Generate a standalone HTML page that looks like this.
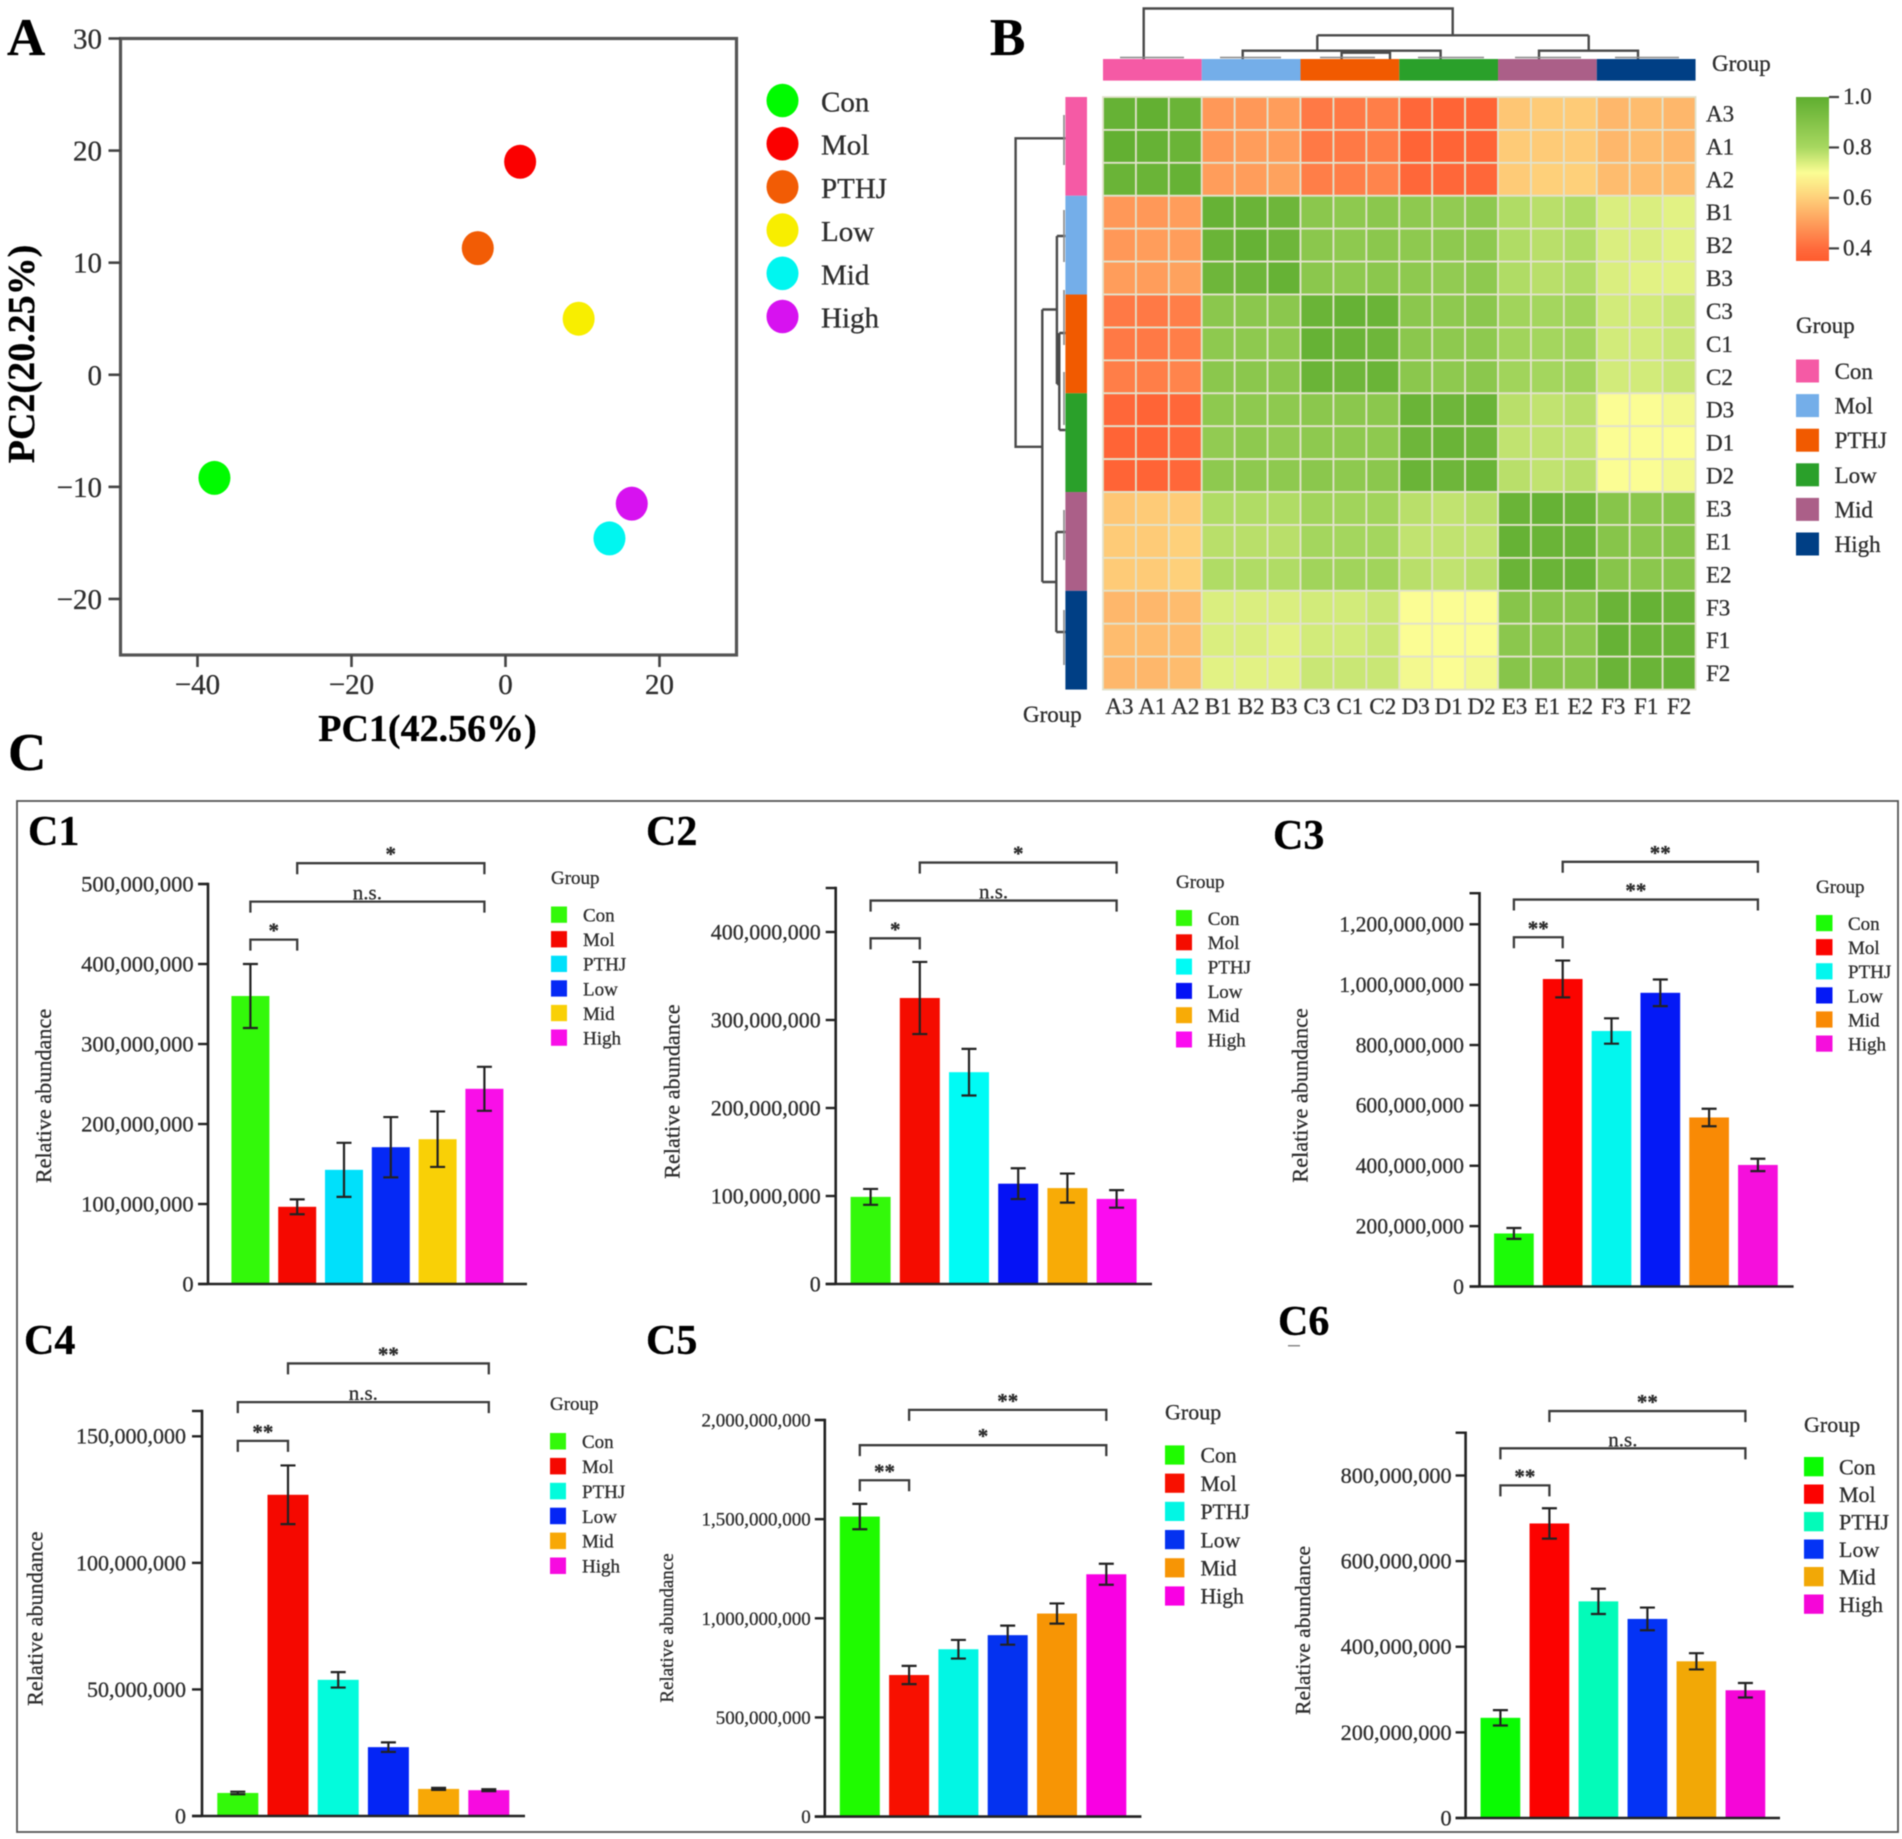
<!DOCTYPE html>
<html lang="en">
<head>
<meta charset="utf-8">
<title>PCA, correlation heatmap and relative abundance bar charts</title>
<style>
html,body{margin:0;padding:0;background:#fff;}
svg{display:block;filter:blur(0.55px);font-family:"Liberation Serif",serif;}
text{fill:#2e2e2e;stroke:#2e2e2e;stroke-width:.3px;}
.letter{font-weight:bold;font-size:53px;fill:#000;stroke:#000;}
.sub{font-weight:bold;font-size:42px;fill:#000;stroke:#000;}
.ttl{font-weight:bold;font-size:38px;fill:#000;stroke:#000;}
.den{fill:none;stroke:#4a4a4a;stroke-width:2.4;}
.den2{fill:none;stroke:#888;stroke-width:1.6;}
</style>
</head>
<body>
<svg id="fig" width="1902" height="1839" viewBox="0 0 1902 1839" xmlns="http://www.w3.org/2000/svg">
  <rect x="0" y="0" width="1902" height="1839" fill="#fff"/>

  <text class="letter" x="7" y="55">A</text>
  <text class="letter" x="990" y="55">B</text>
  <text class="letter" x="8" y="770">C</text>

  <!-- Panel A -->
  <g id="pca">
    <text class="ttl" x="427.5" y="741" text-anchor="middle">PC1(42.56%)</text>
    <text class="ttl" transform="translate(34,354) rotate(-90)" text-anchor="middle">PC2(20.25%)</text>
  </g>

  <!-- Panel B -->
  <g id="heat">
    <path class="den" d="M1143.7 59V8.5H1452.7V35.3M1317.3 35.3H1588.7M1317.3 35.3V50.7M1242.7 59V50.7H1440.6V59M1341.6 59V52.7H1390V59M1588.7 35.3V50.7M1539 59V50.7H1638V59"/>
    <path class="den2" d="M1120 57.5H1184M1220 57.5H1281M1320 57.5H1375M1418 57.5H1484M1515 57.5H1581M1615 57.5H1679"/>
    <path class="den" d="M1065.4 138.3H1015.6V446.8H1042.3M1042.3 309.5V582M1042.3 309.5H1056.9M1056.9 236V384M1056.9 236H1065.4M1056.9 384H1059.3M1059.3 333V430M1059.3 333H1065.4M1059.3 430H1065.4M1042.3 582H1056.3M1056.3 532V632M1056.3 532H1065.4M1056.3 632H1065.4"/>
    <path class="den2" d="M1064 115V165M1064 210V262M1064 290V345M1064 372V425M1064 510V560M1064 610V665"/>
    <text x="1712" y="71" font-size="23">Group</text>
    <text x="1023" y="722" font-size="23">Group</text>
    <text x="1796" y="333" font-size="23">Group</text>
  </g>

  <!-- Panel C frame -->
  <rect x="17" y="801" width="1881" height="1031" fill="none" stroke="#555" stroke-width="1.8"/>

  <text class="sub" x="28" y="845">C1</text>
  <text class="sub" x="646" y="845">C2</text>
  <text class="sub" x="1273" y="849">C3</text>
  <text class="sub" x="24" y="1354">C4</text>
  <text class="sub" x="646" y="1354">C5</text>
  <text class="sub" x="1278" y="1335">C6</text>
  <rect x="1288" y="1345" width="12" height="1.5" fill="#888"/>

  <text transform="translate(51,1096) rotate(-90)" text-anchor="middle" font-size="22.2">Relative abundance</text>
  <text transform="translate(679.5,1091.6) rotate(-90)" text-anchor="middle" font-size="22.2">Relative abundance</text>
  <text transform="translate(1307.5,1095.4) rotate(-90)" text-anchor="middle" font-size="22.2">Relative abundance</text>
  <text transform="translate(42.5,1618.7) rotate(-90)" text-anchor="middle" font-size="22.2">Relative abundance</text>
  <text transform="translate(672.8,1628) rotate(-90)" text-anchor="middle" font-size="19">Relative abundance</text>
  <text transform="translate(1310,1630.4) rotate(-90)" text-anchor="middle" font-size="21.5">Relative abundance</text>

  <text x="551" y="884" font-size="19">Group</text>
  <text x="1176" y="888" font-size="19">Group</text>
  <text x="1816" y="893" font-size="19">Group</text>
  <text x="550" y="1410" font-size="19">Group</text>
  <text x="1165" y="1419.5" font-size="22">Group</text>
  <text x="1804" y="1432" font-size="22">Group</text>
</svg>

<script>
// ---------- shared categories ----------
const groupNames = ['Con', 'Mol', 'PTHJ', 'Low', 'Mid', 'High'];
const bracketFrom = [1, 0, 0];
const bracketTo = [5, 5, 1];

// ---------- panel A data ----------
const pc1Values = [-37.8, 1.9, -3.6, 9.5, 13.5, 16.4];
const pc2Values = [-9.2, 19.0, 11.3, 5.0, -14.6, -11.5];
const pc1Ticks = [-40, -20, 0, 20];
const pc2Ticks = [-20, -10, 0, 10, 20, 30];
const pcaColors = ['#00fb00', '#fb0000', '#f25c05', '#f8ee00', '#00f6f0', '#d712f0'];

// ---------- panel B data ----------
const heatLabels = ['A3','A1','A2','B1','B2','B3','C3','C1','C2','D3','D1','D2','E3','E1','E2','F3','F1','F2'];
const heatGroups = ['Con', 'Mol', 'PTHJ', 'Low', 'Mid', 'High'];
const heatRow01 = [.98,.99,.97,.49,.49,.50,.43,.43,.44,.39,.38,.38,.58,.59,.59,.55,.56,.55];
const heatRow02 = [.99,.98,.97,.49,.50,.50,.43,.43,.44,.38,.38,.38,.59,.59,.59,.55,.56,.55];
const heatRow03 = [.97,.97,.98,.50,.50,.51,.44,.44,.45,.39,.39,.39,.59,.60,.60,.56,.56,.56];
const heatRow04 = [.49,.49,.50,.98,.97,.96,.88,.87,.88,.87,.86,.87,.79,.78,.79,.74,.74,.73];
const heatRow05 = [.49,.50,.50,.97,.98,.96,.88,.87,.88,.87,.87,.87,.79,.78,.79,.74,.74,.73];
const heatRow06 = [.50,.50,.51,.96,.96,.98,.88,.87,.88,.87,.86,.87,.79,.78,.79,.74,.73,.73];
const heatRow07 = [.43,.43,.44,.88,.88,.88,.97,.98,.97,.88,.87,.88,.82,.81,.82,.75,.75,.76];
const heatRow08 = [.43,.43,.44,.87,.87,.87,.98,.97,.96,.88,.87,.87,.82,.81,.82,.75,.75,.76];
const heatRow09 = [.44,.44,.45,.88,.88,.88,.97,.96,.97,.88,.87,.88,.82,.81,.82,.75,.75,.76];
const heatRow10 = [.39,.38,.39,.87,.87,.87,.88,.88,.88,.97,.96,.97,.78,.77,.78,.70,.70,.71];
const heatRow11 = [.38,.38,.39,.86,.87,.86,.87,.87,.87,.96,.97,.96,.77,.77,.77,.70,.70,.70];
const heatRow12 = [.38,.38,.39,.87,.87,.87,.88,.87,.88,.97,.96,.97,.78,.77,.78,.70,.70,.71];
const heatRow13 = [.58,.59,.59,.79,.79,.79,.82,.82,.82,.78,.77,.78,.97,.98,.97,.89,.88,.89];
const heatRow14 = [.59,.59,.60,.78,.78,.78,.81,.81,.81,.77,.77,.77,.98,.97,.97,.89,.88,.89];
const heatRow15 = [.59,.59,.60,.79,.79,.79,.82,.82,.82,.78,.77,.78,.97,.97,.98,.89,.88,.89];
const heatRow16 = [.55,.55,.56,.74,.74,.74,.75,.75,.76,.70,.70,.70,.89,.89,.89,.97,.98,.97];
const heatRow17 = [.56,.56,.56,.74,.74,.73,.75,.75,.76,.70,.70,.70,.88,.88,.88,.98,.97,.97];
const heatRow18 = [.55,.55,.56,.73,.73,.73,.76,.76,.76,.71,.70,.71,.89,.89,.89,.97,.97,.98];
const heatMatrix = [heatRow01,heatRow02,heatRow03,heatRow04,heatRow05,heatRow06,heatRow07,heatRow08,heatRow09,heatRow10,heatRow11,heatRow12,heatRow13,heatRow14,heatRow15,heatRow16,heatRow17,heatRow18];
const colorbarTicks = [1.0, 0.8, 0.6, 0.4];
const heatGroupColors = ['#f55aa5', '#74aee9', '#f15a00', '#2aa02a', '#ab5f88', '#003f85'];

// ---------- panel C1 data ----------
const c1Values = [360000000, 96500000, 142700000, 171000000, 181000000, 244000000];
const c1Errors = [40000000, 9300000, 33800000, 37700000, 34700000, 27500000];
const c1Ticks = [0, 100000000, 200000000, 300000000, 400000000, 500000000];
const c1BracketLabels = ['*', 'n.s.', '*'];
const c1BracketLevels = [526000000, 478000000, 430500000];
const c1Colors = ['#33f90a', '#f50800', '#00e0fb', '#0529f5', '#f9d006', '#f90fe8'];

// ---------- panel C2 data ----------
const c2Values = [99000000, 325000000, 240700000, 114000000, 109000000, 96700000];
const c2Errors = [9000000, 41000000, 26500000, 17500000, 16500000, 10000000];
const c2Ticks = [0, 100000000, 200000000, 300000000, 400000000];
const c2BracketLabels = ['*', 'n.s.', '*'];
const c2BracketLevels = [478900000, 435700000, 392800000];
const c2Colors = ['#33f90a', '#f50c00', '#00fbf5', '#0512f5', '#f8ab06', '#fb0cf0'];

// ---------- panel C3 data ----------
const c3Values = [175700000, 1018800000, 846500000, 973000000, 560000000, 402700000];
const c3Errors = [18000000, 61000000, 42000000, 44000000, 29000000, 20500000];
const c3Ticks = [0, 200000000, 400000000, 600000000, 800000000, 1000000000, 1200000000];
const c3BracketLabels = ['**', '**', '**'];
const c3BracketLevels = [1407000000, 1282000000, 1157000000];
const c3Colors = ['#1cfb07', '#fb0400', '#03f6ee', '#0419f6', '#f98a05', '#f50fdc'];

// ---------- panel C4 data ----------
const c4Values = [9100000, 126900000, 53800000, 27200000, 10700000, 10200000];
const c4Errors = [500000, 11600000, 3050000, 1900000, 400000, 400000];
const c4Ticks = [0, 50000000, 100000000, 150000000];
const c4BracketLabels = ['**', 'n.s.', '**'];
const c4BracketLevels = [178800000, 163500000, 148200000];
const c4Colors = ['#33f90a', '#f50800', '#03fbdc', '#0425f5', '#f8a806', '#f70be0'];

// ---------- panel C5 data ----------
const c5Values = [1513000000, 714000000, 844000000, 915000000, 1024000000, 1222000000];
const c5Errors = [64000000, 46000000, 47000000, 48000000, 51000000, 53000000];
const c5Ticks = [0, 500000000, 1000000000, 1500000000, 2000000000];
const c5BracketLabels = ['**', '*', '**'];
const c5BracketLevels = [2051000000, 1873000000, 1696000000];
const c5Colors = ['#1ffb00', '#f81000', '#02f6e4', '#0432f0', '#f79505', '#f900e3'];

// ---------- panel C6 data ----------
const c6Values = [234000000, 688000000, 506000000, 465000000, 366000000, 298400000];
const c6Errors = [18000000, 35500000, 29500000, 26500000, 19000000, 17000000];
const c6Ticks = [0, 200000000, 400000000, 600000000, 800000000];
const c6BracketLabels = ['**', 'n.s.', '**'];
const c6BracketLevels = [950500000, 863500000, 777000000];
const c6Colors = ['#0afb02', '#fc0200', '#03fbb9', '#0433f5', '#f2a806', '#f506d8'];

// ---------- helpers ----------
const NS = 'http://www.w3.org/2000/svg';
const fig = document.getElementById('fig');
function mk(parent, tag, attrs, text) {
  const el = document.createElementNS(NS, tag);
  for (const k in attrs) el.setAttribute(k, attrs[k]);
  if (text !== undefined) el.textContent = text;
  parent.appendChild(el);
  return el;
}
function hexToRgb(h) {
  return [parseInt(h.slice(1, 3), 16), parseInt(h.slice(3, 5), 16), parseInt(h.slice(5, 7), 16)];
}

// ---------- panel A ----------
(function drawPca() {
  const g = document.getElementById('pca');
  const L = 120.5, R = 736.5, T = 38.5, B = 655;
  const xMin = -50, xMax = 30, yMin = -25, yMax = 30;
  const sx = v => L + (v - xMin) / (xMax - xMin) * (R - L);
  const sy = v => B - (v - yMin) / (yMax - yMin) * (B - T);
  const frame = mk(g, 'rect', {x: L, y: T, width: R - L, height: B - T, fill: 'none', stroke: '#555', 'stroke-width': 3.2});
  
  
  pc2Ticks.forEach(function (v) {
    const t = mk(g, 'line', {x1: L - 12, x2: L, y1: sy(v), y2: sy(v), stroke: '#444', 'stroke-width': 2.6});
    
    
    const lb = mk(g, 'text', {x: 102, y: sy(v) + 10, 'text-anchor': 'end', 'font-size': 29}, String(v).replace('-', '\u2212'));
    
    
  });
  pc1Ticks.forEach(function (v) {
    const t = mk(g, 'line', {x1: sx(v), x2: sx(v), y1: B, y2: B + 12, stroke: '#444', 'stroke-width': 2.6});
    
    
    const lb = mk(g, 'text', {x: sx(v), y: 694, 'text-anchor': 'middle', 'font-size': 29}, String(v).replace('-', '\u2212'));
    
    
  });
  groupNames.forEach(function (name, i) {
    const dot = mk(g, 'ellipse', {cx: sx(pc1Values[i]), cy: sy(pc2Values[i]), rx: 16, ry: 17, fill: pcaColors[i]});
    
    
    const ly = 100.5 + i * 43.2;
    const key = mk(g, 'ellipse', {cx: 782.5, cy: ly, rx: 16, ry: 16.8, fill: pcaColors[i]});
    
    
    const txt = mk(g, 'text', {x: 821, y: ly + 11, 'font-size': 29}, name);
    
    
  });
})();

// ---------- panel B ----------
(function drawHeat() {
  const g = document.getElementById('heat');
  const X0 = 1103, Y0 = 97, CELL = 32.92, N = heatLabels.length;
  const stopVal = [0.35, 0.4, 0.6, 0.7, 0.8, 1.0];
  const stopCol = ['#ff5c2e', '#ff6a3c', '#fed07a', '#fbfd94', '#a8d860', '#5fae30'];
  function color(v) {
    let k = 0;
    while (k < stopVal.length - 2 && v > stopVal[k + 1]) k++;
    const t = Math.max(0, Math.min(1, (v - stopVal[k]) / (stopVal[k + 1] - stopVal[k])));
    const a = hexToRgb(stopCol[k]), b = hexToRgb(stopCol[k + 1]);
    return 'rgb(' + a.map((c, j) => Math.round(c + (b[j] - c) * t)).join(',') + ')';
  }
  heatMatrix.forEach(function (row, r) {
    row.forEach(function (v, c) {
      const cell = mk(g, 'rect', {x: X0 + c * CELL, y: Y0 + r * CELL, width: CELL, height: CELL, fill: color(v), stroke: '#e2e2cc', 'stroke-width': 1.8});
      
      
    });
  });
  heatLabels.forEach(function (name, i) {
    const rl = mk(g, 'text', {x: 1706, y: Y0 + (i + 0.5) * CELL + 8, 'font-size': 23}, name);
    
    
    const cl = mk(g, 'text', {x: X0 + (i + 0.5) * CELL, y: 714, 'text-anchor': 'middle', 'font-size': 23}, name);
    
    
  });
  heatGroups.forEach(function (name, i) {
    const span = 3 * CELL;
    const top = mk(g, 'rect', {x: X0 + i * span, y: 59, width: span, height: 21.6, fill: heatGroupColors[i]});
    
    
    const left = mk(g, 'rect', {x: 1065.4, y: Y0 + i * span, width: 21.6, height: span, fill: heatGroupColors[i]});
    
    
    const ly = 359.5 + i * 34.6;
    const sw = mk(g, 'rect', {x: 1796, y: ly, width: 23, height: 23, fill: heatGroupColors[i]});
    
    
    const tx = mk(g, 'text', {x: 1834.6, y: ly + 19.5, 'font-size': 23}, name);
    
    
  });
  // colour bar
  const defs = mk(fig, 'defs', {});
  const grad = mk(defs, 'linearGradient', {id: 'cbar', x1: 0, y1: 0, x2: 0, y2: 1});
  const barTop = 1.0, barBot = 0.35;
  stopVal.slice().reverse().forEach(function (v, i) {
    mk(grad, 'stop', {offset: ((barTop - v) / (barTop - barBot)).toFixed(4), 'stop-color': stopCol[stopCol.length - 1 - i]});
  });
  const cy = v => 97 + (barTop - v) / (barTop - barBot) * 164;
  const bar = mk(g, 'rect', {x: 1796, y: 97, width: 33, height: 164, fill: 'url(#cbar)'});
  
  
  colorbarTicks.forEach(function (v) {
    const t = mk(g, 'line', {x1: 1829, x2: 1839, y1: cy(v), y2: cy(v), stroke: '#444', 'stroke-width': 2.2});
    
    
    const lb = mk(g, 'text', {x: 1843, y: cy(v) + 7, 'font-size': 23}, v.toFixed(1));
    
    
  });
})();

// ---------- panel C bar charts ----------
function drawBars(id, values, errors, ticks, labels, levels, colors, lay) {
  const g = mk(fig, 'g', {});
  
  
  const sy = v => lay.zeroY - v / lay.yMax * (lay.zeroY - lay.topY);
  const sx = i => lay.firstX + i * lay.pitch;
  const fs = lay.tickFont;

  values.forEach(function (v, i) {
    const bar = mk(g, 'rect', {x: sx(i) - lay.barW / 2, y: sy(v), width: lay.barW, height: lay.zeroY - sy(v), fill: colors[i]});
    
    
    const hi = sy(v + errors[i]), lo = sy(v - errors[i]);
    const err = mk(g, 'path', {d: 'M' + (sx(i) - 7.5) + ' ' + hi + 'H' + (sx(i) + 7.5) + 'M' + sx(i) + ' ' + hi + 'V' + lo + 'M' + (sx(i) - 7.5) + ' ' + lo + 'H' + (sx(i) + 7.5), fill: 'none', stroke: '#222', 'stroke-width': 2.2});
    
    
  });

  const axisY = mk(g, 'line', {x1: lay.axisX, x2: lay.axisX, y1: lay.topY - 1.2, y2: lay.zeroY, stroke: '#222', 'stroke-width': 2.6});
  
  
  const axisX = mk(g, 'line', {x1: lay.axisX - 10, x2: lay.axisRight, y1: lay.zeroY, y2: lay.zeroY, stroke: '#222', 'stroke-width': 2.6});
  
  
  const topTick = mk(g, 'line', {x1: lay.axisX - 10, x2: lay.axisX, y1: lay.topY, y2: lay.topY, stroke: '#222', 'stroke-width': 2.4});
  
  

  ticks.forEach(function (v) {
    const t = mk(g, 'line', {x1: lay.axisX - 10, x2: lay.axisX, y1: sy(v), y2: sy(v), stroke: '#222', 'stroke-width': 2.4});
    
    
    const lb = mk(g, 'text', {x: lay.labelRight, y: sy(v) + fs * 0.3 + 0.8, 'text-anchor': 'end', 'font-size': fs}, v.toLocaleString('en-US'));
    
    
  });

  labels.forEach(function (label, k) {
    const y = sy(levels[k]);
    const a = sx(bracketFrom[k]), b = sx(bracketTo[k]);
    const br = mk(g, 'path', {d: 'M' + a + ' ' + (y + 11) + 'V' + y + 'H' + b + 'V' + (y + 11), fill: 'none', stroke: '#3c3c3c', 'stroke-width': 2.3});
    
    
    const isStar = label.charAt(0) === '*';
    const mid = (a + b) / 2;
    const tx = mk(g, 'text', {x: mid, y: y - 2, 'text-anchor': 'middle', 'font-size': 21, 'font-weight': isStar ? 'bold' : 'normal', fill: '#333'}, label);
    
    
  });

  groupNames.forEach(function (name, i) {
    const ly = lay.legendY + i * lay.legendStep;
    const sw = mk(g, 'rect', {x: lay.legendX, y: ly, width: lay.swatchW, height: lay.swatchH, fill: colors[i]});
    
    
    const tx = mk(g, 'text', {x: lay.legendTextX, y: ly + lay.swatchH / 2 + lay.legendFont * 0.32 + 0.8, 'font-size': lay.legendFont}, name);
    
    
  });
}

drawBars('c1', c1Values, c1Errors, c1Ticks, c1BracketLabels, c1BracketLevels, c1Colors, {
  axisX: 208, axisRight: 527, zeroY: 1284, topY: 884, yMax: 500000000, firstX: 250.4, pitch: 46.8, barW: 38,
  labelRight: 193.6, tickFont: 22.5, legendX: 551, legendY: 906.5, legendStep: 24.6, swatchW: 16, swatchH: 16.3, legendTextX: 583, legendFont: 19
});
drawBars('c2', c2Values, c2Errors, c2Ticks, c2BracketLabels, c2BracketLevels, c2Colors, {
  axisX: 835.7, axisRight: 1152, zeroY: 1284, topY: 888, yMax: 450000000, firstX: 870.6, pitch: 49.2, barW: 40,
  labelRight: 820.8, tickFont: 22, legendX: 1176, legendY: 910, legendStep: 24.3, swatchW: 16, swatchH: 16, legendTextX: 1207.7, legendFont: 19
});
drawBars('c3', c3Values, c3Errors, c3Ticks, c3BracketLabels, c3BracketLevels, c3Colors, {
  axisX: 1479.5, axisRight: 1793.6, zeroY: 1286.5, topY: 893.2, yMax: 1303000000, firstX: 1513.9, pitch: 48.8, barW: 39.7,
  labelRight: 1464, tickFont: 21.7, legendX: 1816, legendY: 915, legendStep: 24.1, swatchW: 16.5, swatchH: 16.2, legendTextX: 1848, legendFont: 19
});
drawBars('c4', c4Values, c4Errors, c4Ticks, c4BracketLabels, c4BracketLevels, c4Colors, {
  axisX: 202, axisRight: 525, zeroY: 1816, topY: 1411, yMax: 160000000, firstX: 237.8, pitch: 50.2, barW: 41,
  labelRight: 186, tickFont: 22, legendX: 550, legendY: 1433, legendStep: 24.9, swatchW: 16, swatchH: 16.5, legendTextX: 582, legendFont: 19
});
drawBars('c5', c5Values, c5Errors, c5Ticks, c5BracketLabels, c5BracketLevels, c5Colors, {
  axisX: 824.8, axisRight: 1141.4, zeroY: 1816.6, topY: 1420, yMax: 2000000000, firstX: 859.8, pitch: 49.3, barW: 40,
  labelRight: 810.8, tickFont: 19, legendX: 1165, legendY: 1445.4, legendStep: 28.2, swatchW: 19.4, swatchH: 19.2, legendTextX: 1200.5, legendFont: 21.7
});
drawBars('c6', c6Values, c6Errors, c6Ticks, c6BracketLabels, c6BracketLevels, c6Colors, {
  axisX: 1465.6, axisRight: 1780, zeroY: 1818, topY: 1432.7, yMax: 900000000, firstX: 1500.4, pitch: 49, barW: 39.7,
  labelRight: 1451.6, tickFont: 22.2, legendX: 1804, legendY: 1457, legendStep: 27.5, swatchW: 19.5, swatchH: 19.3, legendTextX: 1839, legendFont: 22
});
</script>
</body>
</html>
